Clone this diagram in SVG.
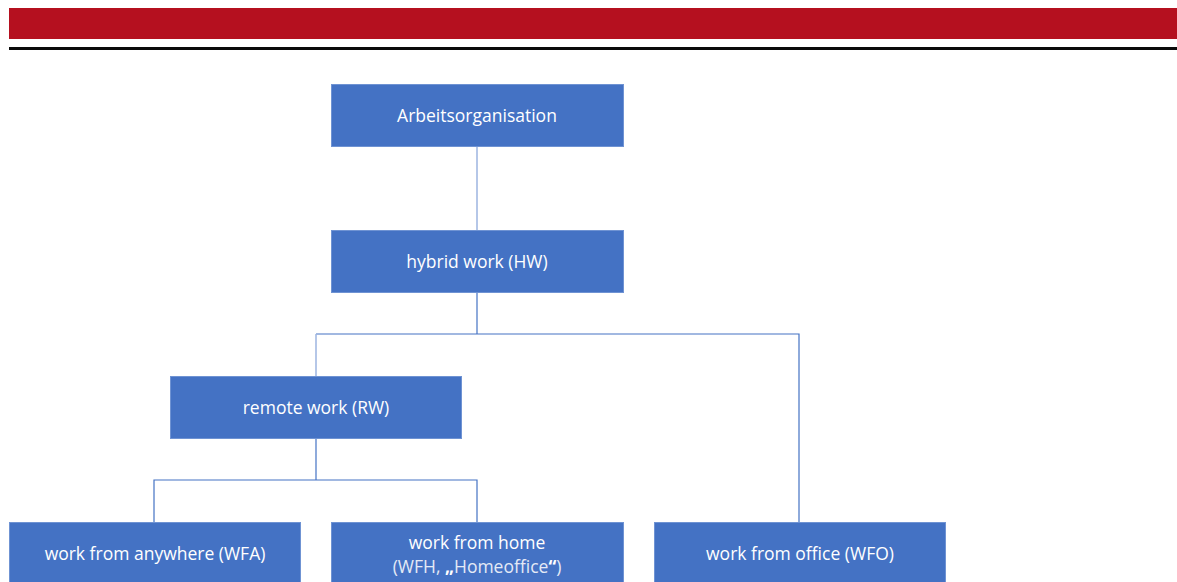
<svg xmlns="http://www.w3.org/2000/svg" width="1177" height="582" viewBox="0 0 1177 582">
  <style>
    .box { fill: #4472C4; stroke: #6F93D3; stroke-width: 1; }
    .lbl { font-family: "Open Sans", "Liberation Sans", sans-serif; font-size: 17.5px; fill: #FFFFFF; text-anchor: middle; }
    .sub { fill: #E4EAF6; }
    .q { font-weight: bold; fill: #FFFFFF; }
    .conn { fill: none; stroke: #4472C4; stroke-width: 1.2; }
    .conn-light { fill: none; stroke: #9DB5E0; stroke-width: 1.5; }
  </style>
  <rect width="1177" height="582" fill="#FFFFFF"/>

  <!-- header band and rule -->
  <rect x="9" y="8" width="1168" height="31" fill="#B5101F"/>
  <rect x="9" y="47" width="1168" height="3" fill="#0A0A0A"/>

  <!-- connectors -->
  <g id="connectors">
    <path class="conn-light" d="M477,146 V230"/>
    <path class="conn" d="M477,292 V334"/>
    <path class="conn" d="M316,334 H799 V522"/>
    <path class="conn-light" d="M316,334 V376"/>
    <path class="conn" d="M316,438 V480"/>
    <path class="conn" d="M154,522 V480 H477 V522"/>
  </g>

  <g id="arbeitsorganisation">
    <rect class="box" x="331.5" y="84.5" width="292" height="62"/>
    <text class="lbl" x="477" y="121.5">Arbeitsorganisation</text>
  </g>

  <g id="hybrid-work">
    <rect class="box" x="331.5" y="230.5" width="292" height="62"/>
    <text class="lbl" x="477" y="267.5">hybrid work (HW)</text>
  </g>

  <g id="remote-work">
    <rect class="box" x="170.5" y="376.5" width="291" height="62"/>
    <text class="lbl" x="316" y="413.5">remote work (RW)</text>
  </g>

  <g id="work-from-anywhere">
    <rect class="box" x="9.5" y="522.5" width="291" height="70"/>
    <text class="lbl" x="155" y="560">work from anywhere (WFA)</text>
  </g>

  <g id="work-from-home">
    <rect class="box" x="331.5" y="522.5" width="292" height="70"/>
    <text class="lbl" x="477" y="548.5">work from home</text>
    <text class="lbl" x="477" y="572.5"><tspan class="sub">(WFH, </tspan><tspan class="q">„</tspan><tspan class="sub">Homeoffice</tspan><tspan class="q">“</tspan><tspan class="sub">)</tspan></text>
  </g>

  <g id="work-from-office">
    <rect class="box" x="654.5" y="522.5" width="291" height="70"/>
    <text class="lbl" x="800" y="560">work from office (WFO)</text>
  </g>
</svg>
